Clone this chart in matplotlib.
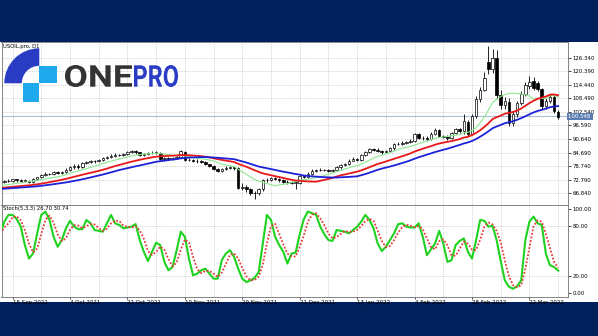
import matplotlib.pyplot as plt
import numpy as np
import pandas as pd
from matplotlib.patches import Wedge, Rectangle, PathPatch
from matplotlib.textpath import TextPath
from matplotlib.font_manager import FontProperties
from matplotlib.transforms import Affine2D, blended_transform_factory

W, H = 598, 336

# daily USOIL candles (bar index 0..136)
opens = [71.6, 72.0, 72.2, 72.3, 72.9, 72.6, 72.3, 72.4, 71.8, 73.0,
         73.8, 74.8, 75.5, 75.3, 76.2, 75.8, 76.0, 77.2, 78.2, 79.0,
         78.2, 80.0, 80.6, 81.0, 80.8, 81.3, 82.3, 82.6, 83.4, 83.8,
         83.5, 84.0, 84.9, 85.3, 84.8, 83.6, 84.1, 84.3, 84.6, 84.6,
         82.0, 82.2, 82.0, 82.3, 82.8, 85.0, 81.5, 81.4, 81.2, 80.8,
         80.6, 79.5, 78.8, 77.6, 76.8, 77.5, 78.0, 78.2, 77.8, 69.0,
         69.5, 68.5, 67.0, 66.8, 68.5, 72.6, 72.8, 73.5, 73.2, 72.5,
         72.0, 71.8, 71.5, 71.5, 74.5, 74.0, 75.5, 76.8, 77.0, 77.2,
         77.0, 76.7, 77.0, 78.2, 79.2, 79.8, 81.2, 82.0, 81.5, 83.5,
         85.0, 86.3, 86.0, 85.5, 84.8, 85.5, 86.5, 88.4, 88.6, 89.0,
         89.2, 89.9, 92.8, 91.0, 91.2, 90.6, 93.0, 94.6, 92.0, 91.5,
         91.1, 93.3, 94.9, 94.0, 98.0, 93.0, 100.6, 108.0, 112.3, 124.5,
         121.5, 126.0, 110.0, 105.5, 107.0, 97.5, 101.5, 106.5, 110.5, 114.0,
         116.0, 115.0, 112.5, 105.0, 107.5, 109.0, 102.5]
highs = [72.4, 72.7, 72.9, 73.3, 73.2, 73.0, 72.9, 72.8, 73.4, 74.2,
         75.3, 76.0, 75.9, 76.7, 76.6, 76.5, 77.8, 78.7, 79.6, 79.5,
         80.5, 81.1, 81.6, 81.5, 81.9, 82.9, 83.1, 84.0, 84.3, 84.2,
         84.6, 85.5, 85.9, 85.7, 85.1, 84.7, 84.9, 85.2, 85.3, 84.9,
         82.9, 82.8, 82.9, 83.5, 85.8, 85.4, 82.2, 82.0, 81.7, 81.3,
         80.9, 79.9, 79.2, 78.0, 78.0, 78.6, 78.8, 78.6, 78.3, 71.5,
         70.3, 69.2, 67.8, 69.2, 73.0, 73.5, 74.2, 73.9, 73.6, 72.9,
         72.6, 72.3, 72.2, 75.0, 75.0, 76.0, 77.4, 77.6, 77.8, 77.6,
         77.4, 77.5, 78.7, 79.7, 80.3, 81.8, 82.6, 82.4, 84.0, 85.5,
         86.9, 86.9, 86.5, 85.9, 86.0, 87.0, 88.9, 89.3, 89.6, 89.8,
         90.5, 93.5, 93.2, 91.9, 91.8, 93.6, 95.3, 95.0, 92.6, 92.2,
         93.9, 95.6, 95.3, 101.5, 98.8, 101.5, 109.5, 113.5, 120.0, 131.5,
         130.0, 129.5, 112.0, 109.0, 108.5, 103.0, 107.5, 111.5, 115.5, 118.5,
         118.0, 116.0, 113.0, 108.5, 110.5, 110.0, 103.5]
lows = [71.2, 71.5, 71.8, 71.9, 72.0, 71.8, 71.8, 71.2, 71.4, 72.6,
        73.4, 74.4, 74.8, 74.9, 75.3, 75.3, 75.6, 76.8, 77.7, 77.3,
        77.9, 79.6, 80.2, 80.3, 80.4, 80.9, 81.9, 82.2, 82.9, 83.0,
        83.1, 83.6, 84.4, 84.2, 83.0, 83.2, 83.6, 83.9, 84.1, 81.5,
        80.8, 81.3, 81.4, 81.8, 82.3, 81.0, 80.9, 80.6, 80.3, 80.0,
        79.1, 78.2, 77.1, 76.2, 76.3, 76.9, 77.4, 77.2, 68.6, 68.2,
        67.5, 66.3, 64.3, 66.0, 68.0, 71.9, 72.2, 72.6, 71.9, 71.5,
        71.1, 70.9, 68.5, 71.0, 73.4, 73.6, 75.0, 76.2, 76.5, 76.4,
        76.1, 76.2, 76.6, 77.7, 78.8, 79.3, 80.8, 81.0, 81.1, 83.0,
        84.6, 85.4, 85.0, 84.2, 84.3, 85.0, 86.0, 87.9, 88.1, 88.5,
        88.7, 89.4, 90.5, 90.4, 89.9, 90.1, 92.4, 91.6, 91.0, 90.4,
        90.7, 92.8, 93.4, 93.0, 92.1, 92.4, 99.9, 107.0, 111.5, 119.0,
        119.5, 108.0, 104.0, 104.0, 96.5, 96.5, 100.5, 105.5, 109.5, 112.5,
        112.0, 111.5, 104.0, 104.0, 106.5, 102.0, 99.5]
closes = [72.0, 72.2, 72.4, 72.9, 72.6, 72.3, 72.4, 71.8, 73.0, 73.8,
          74.8, 75.5, 75.3, 76.2, 75.8, 76.0, 77.2, 78.2, 79.0, 78.2,
          80.0, 80.6, 81.0, 80.8, 81.3, 82.3, 82.6, 83.4, 83.8, 83.5,
          84.0, 84.9, 85.3, 84.8, 83.6, 84.1, 84.3, 84.6, 84.8, 82.0,
          82.2, 82.0, 82.3, 82.8, 85.3, 81.5, 81.4, 81.2, 80.8, 80.6,
          79.5, 78.8, 77.6, 76.8, 77.5, 78.0, 78.2, 77.8, 69.0, 69.5,
          68.5, 67.0, 66.8, 68.5, 72.6, 72.8, 73.5, 73.2, 72.5, 72.0,
          71.8, 71.5, 71.5, 74.5, 74.0, 75.5, 76.8, 77.0, 77.2, 77.0,
          76.7, 77.0, 78.2, 79.2, 79.8, 81.2, 82.0, 81.5, 83.5, 85.0,
          86.3, 86.0, 85.5, 84.8, 85.5, 86.5, 88.4, 88.6, 89.0, 89.2,
          89.9, 92.8, 91.0, 91.2, 90.6, 93.0, 94.6, 92.0, 91.5, 91.1,
          93.3, 94.9, 94.0, 98.4, 92.8, 100.6, 108.0, 112.3, 117.5, 121.5,
          126.0, 110.0, 105.5, 107.5, 97.5, 101.5, 106.5, 110.5, 114.5, 115.5,
          113.0, 112.5, 105.0, 107.5, 109.0, 102.8, 100.5]

# stochastic %K
stoch_k = [71, 85, 93, 93, 88, 79, 57, 41, 47, 71,
           93, 97, 87, 67, 55, 63, 77, 86, 79, 76,
           76, 87, 83, 75, 74, 73, 83, 93, 83, 81,
           77, 78, 79, 82, 63, 49, 38, 49, 60, 57,
           37, 27, 31, 51, 73, 67, 41, 21, 23, 27,
           29, 23, 17, 17, 39, 47, 51, 43, 29, 17,
           13, 15, 18, 25, 59, 93, 87, 67, 57, 49,
           35, 47, 48, 70, 88, 97, 95, 93, 79, 70,
           63, 62, 75, 74, 73, 71, 75, 79, 85, 93,
           87, 77, 59, 50, 55, 63, 71, 82, 83, 79,
           78, 78, 83, 67, 45, 52, 59, 74, 59, 37,
           39, 57, 62, 65, 49, 41, 63, 87, 86, 79,
           80, 63, 38, 15, 7.5, 5, 8, 15, 63, 85,
           91, 83, 81, 47, 33, 31, 26.7]

ma_periods = [10, 20, 30]
ma_start = [70.0, 69.0, 68.6]   # level each MA comes in with at the left edge
ma_colors = ['#8ee88e', '#e81818', '#1c22d8']
ma_widths = [0.8, 1.3, 1.3]

date_labels = ['15 Sep 2021', '4 Oct 2021', '22 Oct 2021', '10 Nov 2021', '29 Nov 2021',
               '21 Dec 2021', '13 Jan 2022', '4 Feb 2022', '28 Feb 2022', '22 Mar 2022']
price_ticks = [66.840, 72.790, 78.740, 84.690, 90.640, 96.590, 102.540, 108.490, 114.440, 120.390, 126.340]
stoch_ticks = [0, 20, 80, 100]
last_price = 100.548


def sma(values, n, seed):
    # simple moving average; bars before the window is full borrow the seed level
    padded = np.concatenate([np.full(n - 1, seed), values])
    return np.convolve(padded, np.ones(n) / n, mode='valid')


def px_axes(fig, x0, y0, x1, y1, **kw):
    return fig.add_axes([x0 / W, 1 - y1 / H, (x1 - x0) / W, (y1 - y0) / H], **kw)


def fit_text(ax, s, x0, x1, ytop, ybot, color, prop):
    tp = TextPath((0, 0), s, size=10, prop=prop)
    ext = tp.get_extents()
    sx = (x1 - x0) / ext.width
    sy = (ybot - ytop) / ext.height
    tr = Affine2D().translate(-ext.x0, -ext.y0).scale(sx, -sy).translate(x0, ybot)
    ax.add_patch(PathPatch(tr.transform_path(tp), facecolor=color, edgecolor='none'))


n = len(closes)
idx = np.arange(n)
o, h, l, c = map(np.array, (opens, highs, lows, closes))

fig = plt.figure(figsize=(W / 100, H / 100), dpi=100)
fig.patch.set_facecolor('#02215c')

bg = px_axes(fig, 0, 42, W, 302)
bg.set_facecolor('white')
bg.set_xticks([])
bg.set_yticks([])
for s in bg.spines.values():
    s.set_visible(False)

grid_kw = dict(color='#c4c4c4', lw=0.5, linestyle=(0, (1.5, 1.5)), zorder=0)
grid_idx = np.arange(3, n + 2, 7)
xlim = (0.3, 138.4)

# ---- price panel
ax = px_axes(fig, 1.5, 42, 568, 205)
ax.set_xlim(*xlim)
ax.set_ylim(61.7, 133.2)
for g in grid_idx:
    ax.axvline(g, **grid_kw)
for t in price_ticks:
    ax.axhline(t, **grid_kw)

up = c >= o
ax.vlines(idx, l, h, color='black', lw=0.6, zorder=2)
body = np.where(np.abs(c - o) < 0.15, 0.15, c - o)
ax.bar(idx[up], body[up], bottom=o[up], width=0.62, color='white', edgecolor='black', lw=0.5, zorder=3)
ax.bar(idx[~up], body[~up], bottom=o[~up], width=0.62, color='black', edgecolor='black', lw=0.5, zorder=3)

for p, s0, col, lw in zip(ma_periods, ma_start, ma_colors, ma_widths):
    ax.plot(idx, sma(c, p, s0), color=col, lw=lw, zorder=4)

ax.axhline(last_price, color='#a9bdd6', lw=0.8, zorder=1)

ax.yaxis.tick_right()
ax.set_yticks(price_ticks)
ax.set_yticklabels([f'{t:.3f}' for t in price_ticks])
ax.tick_params(axis='y', labelsize=3.9, length=2, width=0.5, pad=1.5)
ax.set_xticks([])
for s in ax.spines.values():
    s.set_color('#707070')
    s.set_linewidth(0.6)
ax.text(1.0, last_price, '100.548 ', transform=blended_transform_factory(ax.transAxes, ax.transData),
        fontsize=3.9, color='white', va='center', ha='left',
        bbox=dict(boxstyle='square,pad=0.25', fc='#5b7db1', ec='none'))
ax.text(0.003, 0.99, 'USOIL.pro, D1', transform=ax.transAxes, fontsize=3.8, va='top', ha='left')

# ---- stochastic panel
ax2 = px_axes(fig, 1.5, 205, 568, 297)
ax2.set_xlim(*xlim)
ax2.set_ylim(-4.8, 104.8)
for g in grid_idx:
    ax2.axvline(g, **grid_kw)
for t in (20, 80):
    ax2.axhline(t, **grid_kw)

k = pd.Series(stoch_k, dtype=float)
d = k.rolling(3, min_periods=1).mean()
ax2.plot(idx, k, color='#1fd21f', lw=1.5, zorder=3)
ax2.plot(idx, d, color='#e63c3c', lw=1.3, linestyle=(0, (1, 1)), zorder=4)

ax2.yaxis.tick_right()
ax2.set_yticks(stoch_ticks)
ax2.set_yticklabels([f'{t:.2f}' for t in stoch_ticks])
ax2.tick_params(axis='y', labelsize=3.9, length=2, width=0.5, pad=1.5)
ax2.set_xticks(np.arange(3, n, 14))
ax2.set_xticklabels(date_labels, ha='left')
ax2.tick_params(axis='x', labelsize=4.0, length=1.5, width=0.5, pad=0.8)
for s in ax2.spines.values():
    s.set_color('#707070')
    s.set_linewidth(0.6)
ax2.text(0.003, 0.985, f'Stoch(5,3,3) {k.iloc[-1]:.2f} 30.74', transform=ax2.transAxes,
         fontsize=3.8, va='top', ha='left')

# ---- logo overlay
lg = fig.add_axes([0, 0, 1, 1], zorder=10)
lg.set_xlim(0, W)
lg.set_ylim(H, 0)
lg.axis('off')
lg.add_patch(Wedge((39.3, 83.3), 35, 180, 270, width=17.5, facecolor='#2b3cc4', edgecolor='none'))
lg.add_patch(Rectangle((39.3, 66.3), 18, 17, facecolor='#1ea8ee', edgecolor='none'))
lg.add_patch(Rectangle((22.5, 83.3), 16.8, 18.5, facecolor='#1ea8ee', edgecolor='none'))
logo_font = FontProperties(family='Roboto', weight='bold')
fit_text(lg, 'ONE', 65, 132, 65, 87, '#333333', logo_font)
fit_text(lg, 'PRO', 134, 178, 65, 87, '#2b3cc4', logo_font)

fig.savefig('out.png', dpi=100, facecolor=fig.get_facecolor())
